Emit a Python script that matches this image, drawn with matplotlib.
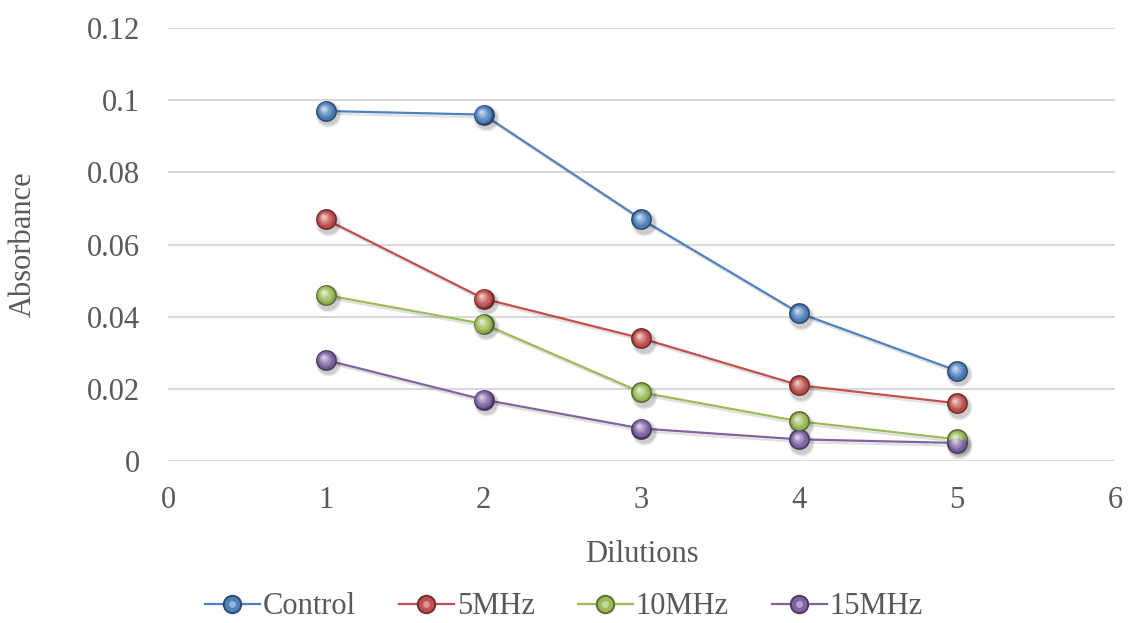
import numpy as np
import matplotlib.pyplot as plt
import matplotlib.colors as mcolors
import matplotlib.patheffects as pe
from matplotlib.transforms import offset_copy
from matplotlib.lines import Line2D
from matplotlib.legend_handler import HandlerTuple

plt.rcParams['font.family'] = ['Liberation Serif', 'DejaVu Serif']

dilutions = [1, 2, 3, 4, 5]
control = [0.097, 0.096, 0.067, 0.041, 0.025]
mhz5 = [0.067, 0.045, 0.034, 0.021, 0.016]
mhz10 = [0.046, 0.038, 0.019, 0.011, 0.006]
mhz15 = [0.028, 0.017, 0.009, 0.006, 0.005]

series_names = ['Control', '5MHz', '10MHz', '15MHz']
series_vals = [control, mhz5, mhz10, mhz15]
series_colors = ['#4F81BD', '#C0504D', '#9BBB59', '#8064A2']

text_col = '#595959'
grid_col = '#D9D9D9'


def shade(c, f):
    # f < 0 darkens towards black, f > 0 lightens towards white
    rgb = np.array(mcolors.to_rgb(c))
    if f < 0:
        return tuple(rgb * (1 + f))
    return tuple(rgb + (1 - rgb) * f)


def sphere(ax, x, y, color, ms=15, z=3):
    # stack of shrinking discs drifting to the upper left gives a ball look
    fig = ax.figure
    for k, a in [(4, 0.05), (2.5, 0.07), (1, 0.09)]:
        sh = offset_copy(ax.transData, fig=fig, x=1.5, y=-2.5, units='points')
        ax.plot(x, y, 'o', ms=ms + k, color='black', alpha=a, mec='none',
                transform=sh, zorder=z)
    ax.plot(x, y, 'o', ms=ms, color=shade(color, -0.45), mec='none', zorder=z + 0.1)
    n = 10
    for i in range(n):
        t = (i + 1) / n
        size = ms * (1 - 0.82 * t) - 0.8
        f = -0.15 + 0.85 * t ** 1.3
        dx, dy = -1.8 * t, 2.0 * t
        tr = offset_copy(ax.transData, fig=fig, x=dx, y=dy, units='points')
        ax.plot(x, y, 'o', ms=size, color=shade(color, f), mec='none',
                transform=tr, zorder=z + 0.2 + i * 0.01)


fig = plt.figure(figsize=(11.28, 6.23), dpi=100)
ax = fig.add_axes([0.1489, 0.26, 0.8396, 0.695])

for name, vals, col in zip(series_names, series_vals, series_colors):
    ax.plot(dilutions, vals, color=col, lw=1.6, zorder=2,
            path_effects=[pe.SimpleLineShadow(offset=(1.5, -2), shadow_color='black', alpha=0.12),
                          pe.Normal()])
    sphere(ax, dilutions, vals, col)

ax.set_xlim(0, 6)
ax.set_ylim(0, 0.12)
ax.set_xticks([0, 1, 2, 3, 4, 5, 6])
ax.set_yticks([0, 0.02, 0.04, 0.06, 0.08, 0.1, 0.12])
ax.set_yticklabels(['0', '0.02', '0.04', '0.06', '0.08', '0.1', '0.12'])
ax.yaxis.grid(True, color=grid_col, lw=1.5)
ax.set_axisbelow(True)
for s in ax.spines.values():
    s.set_visible(False)
ax.tick_params(length=0, labelsize=22, labelcolor=text_col)
ax.tick_params(axis='y', pad=20)
ax.tick_params(axis='x', pad=18)
ax.set_xlabel('Dilutions', fontsize=22, color=text_col, labelpad=18)
ax.set_ylabel('Absorbance', fontsize=22, color=text_col)
ax.yaxis.set_label_coords(-0.137, 0.5)

handles = []
for col in series_colors:
    ln = Line2D([], [], color=col, lw=1.6)
    base = Line2D([], [], marker='o', ls='none', ms=14, color=shade(col, -0.4), mec='none')
    mid = Line2D([], [], marker='o', ls='none', ms=11, color=col, mec='none')
    hi = Line2D([], [], marker='o', ls='none', ms=5, color=shade(col, 0.4), mec='none')
    handles.append((ln, base, mid, hi))

fig.legend(handles, series_names, loc='center', bbox_to_anchor=(0.5, 1 - 607 / 623),
           ncol=4, frameon=False, fontsize=22, labelcolor=text_col,
           handler_map={tuple: HandlerTuple(ndivide=1, pad=0)},
           handlelength=1.8, handletextpad=0.1, columnspacing=1.4)

fig.savefig('out.png', dpi=100, facecolor='white')
